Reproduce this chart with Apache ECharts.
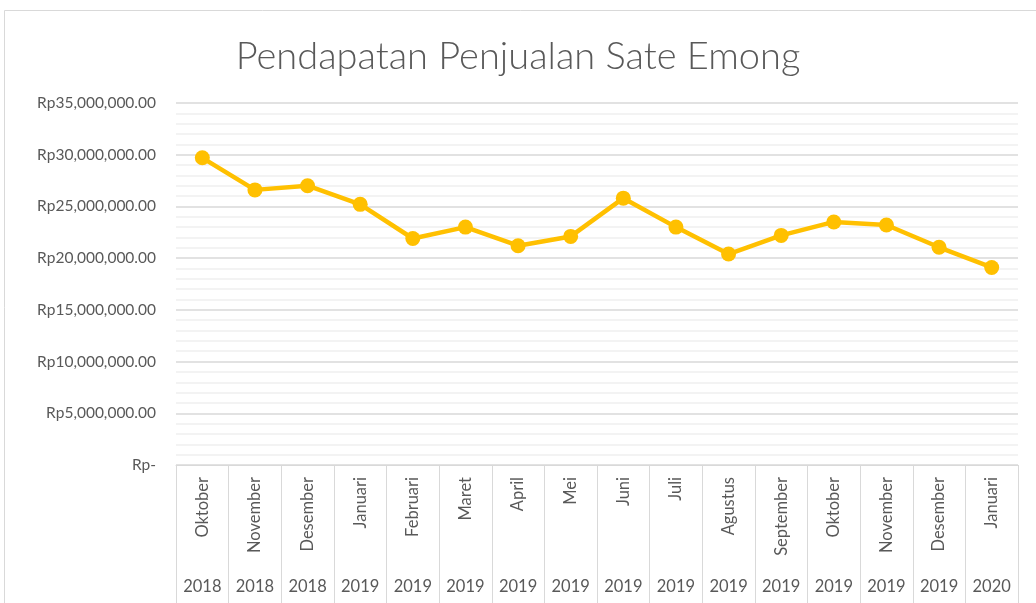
<!DOCTYPE html>
<html>
<head>
<meta charset="utf-8">
<script src="https://cdn.jsdelivr.net/npm/echarts@6.0.0/dist/echarts.min.js"></script>
<style>
  html, body { margin: 0; padding: 0; background: #fff; }
  #chart { width: 1036px; height: 603px; }
</style>
</head>
<body>
<div id="chart"></div>
<script>
// bulan dan tahun (sumbu x dua tingkat)
const months = ['Oktober', 'November', 'Desember', 'Januari', 'Februari', 'Maret', 'April', 'Mei',
  'Juni', 'Juli', 'Agustus', 'September', 'Oktober', 'November', 'Desember', 'Januari']
const years = ['2018', '2018', '2018', '2019', '2019', '2019', '2019', '2019',
  '2019', '2019', '2019', '2019', '2019', '2019', '2019', '2020']
// pendapatan (Rp)
const revenue = [29700000, 26600000, 27000000, 25200000, 21900000, 23000000, 21200000, 22100000,
  25800000, 23000000, 20400000, 22200000, 23500000, 23200000, 21050000, 19100000]

const font = 'Lato, "Open Sans", sans-serif'
const textColor = '#595959'

const formatRp = (v) => {
  if (v === 0) return 'Rp-'
  return 'Rp' + v.toLocaleString('en-US', { minimumFractionDigits: 2, maximumFractionDigits: 2 })
}

const chart = echarts.init(document.getElementById('chart'))

chart.setOption({
  backgroundColor: '#fff',
  animation: false,
  title: {
    text: 'Pendapatan Penjualan Sate Emong',
    left: 'center',
    top: 33,
    textStyle: { fontFamily: font, fontWeight: 300, fontSize: 38, color: textColor }
  },
  graphic: [{
    type: 'rect',
    shape: { x: 4.5, y: 10.5, width: 1040, height: 600 },
    style: { fill: 'none', stroke: '#d9d9d9', lineWidth: 1 },
    silent: true
  }],
  grid: { left: 176, right: 18, top: 103, bottom: 138 },
  xAxis: [{
    type: 'category',
    data: months,
    boundaryGap: true,
    axisLine: { lineStyle: { color: '#d9d9d9' } },
    axisTick: { show: true, length: 140, lineStyle: { color: '#d9d9d9' } },
    axisLabel: { rotate: 90, margin: 12, fontFamily: font, fontSize: 16.5, color: textColor }
  }, {
    type: 'category',
    data: years,
    position: 'bottom',
    boundaryGap: true,
    axisLine: { show: false },
    axisTick: { show: false },
    axisLabel: { margin: 113, fontFamily: font, fontSize: 16.5, color: textColor }
  }],
  yAxis: {
    type: 'value',
    min: 0,
    max: 35000000,
    interval: 5000000,
    axisLine: { show: false },
    axisTick: { show: false },
    axisLabel: { formatter: formatRp, margin: 20, fontFamily: font, fontSize: 15.5, color: textColor },
    splitLine: { lineStyle: { color: '#d9d9d9', width: 1.5 } },
    minorTick: { show: false, splitNumber: 5 },
    minorSplitLine: { show: true, lineStyle: { color: '#f0f0f0', width: 1.5 } }
  },
  series: [{
    type: 'line',
    data: revenue,
    xAxisIndex: 0,
    symbol: 'circle',
    symbolSize: 15,
    lineStyle: { color: '#FFC000', width: 4.5 },
    itemStyle: { color: '#FFC000' }
  }]
})
</script>
</body>
</html>
